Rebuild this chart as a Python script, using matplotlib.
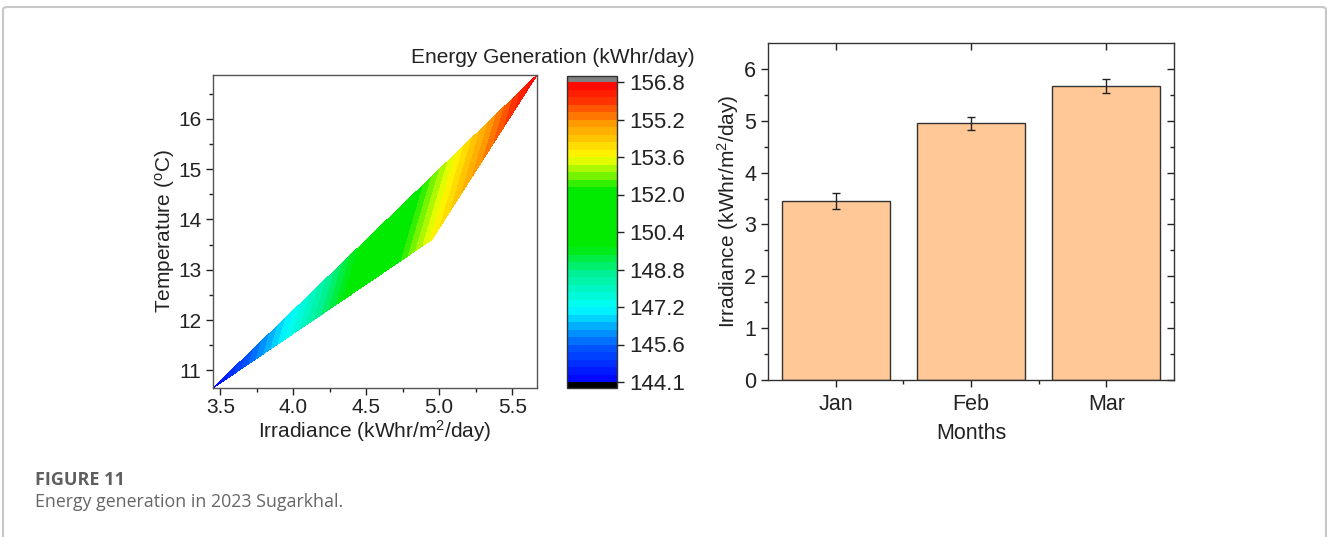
import numpy as np
import matplotlib
matplotlib.use("Agg")
import matplotlib.pyplot as plt
import matplotlib.tri as mtri
from matplotlib.colors import LinearSegmentedColormap
from matplotlib.patches import FancyBboxPatch

plt.rcParams['font.family'] = ['Liberation Sans', 'DejaVu Sans']
plt.rcParams['mathtext.default'] = 'regular'

# data
months = ['Jan', 'Feb', 'Mar']
irradiance = [3.45, 4.95, 5.67]
irradiance_err = [0.16, 0.12, 0.135]
temperature = [10.65, 13.6, 16.87]
energy = [144.1, 153.7, 156.8]
cbar_labels = ['144.1', '145.6', '147.2', '148.8', '150.4', '152.0', '153.6', '155.2', '156.8']

fig = plt.figure(figsize=(13.27, 5.37), dpi=100)

# outer frame of the figure box
frame = FancyBboxPatch((3 / 1327, -0.05), 1323 / 1327, 1 - 7 / 537 + 0.05,
                       boxstyle="round,pad=0,rounding_size=0.004",
                       transform=fig.transFigure, fill=False,
                       edgecolor='#c8c8c8', linewidth=1.5)
fig.patches.append(frame)

# colormap like Origin rainbow
nodes = [
    (0.00, (0.0, 0.0, 1.0)),
    (0.12, (0.0, 0.35, 1.0)),
    (0.245, (0.0, 1.0, 1.0)),
    (0.37, (0.0, 0.94, 0.55)),
    (0.45, (0.0, 0.92, 0.0)),
    (0.64, (0.0, 0.92, 0.0)),
    (0.75, (1.0, 1.0, 0.0)),
    (0.86, (1.0, 0.62, 0.0)),
    (0.94, (1.0, 0.2, 0.0)),
    (1.00, (1.0, 0.0, 0.0)),
]
cmap = LinearSegmentedColormap.from_list('origin_rainbow', nodes)
cmap.set_under('black')
cmap.set_over('#808080')

levels = np.linspace(144.1, 156.8, 41)

# left: contour
ax1 = fig.add_axes([213 / 1327, 1 - 388 / 537, 324 / 1327, 313 / 537])
tri = mtri.Triangulation(irradiance, temperature)
cs = ax1.tricontourf(tri, energy, levels=levels, cmap=cmap, extend='both')
ax1.set_xlim(3.45, 5.67)
ax1.set_ylim(10.65, 16.87)
ax1.set_xticks([3.5, 4.0, 4.5, 5.0, 5.5])
ax1.set_xticks([3.75, 4.25, 4.75, 5.25], minor=True)
ax1.set_yticks([11, 12, 13, 14, 15, 16])
ax1.set_yticks(np.arange(11.5, 16.6, 1.0), minor=True)
ax1.tick_params(which='major', direction='out', length=5, width=1, labelsize=15, colors='#222')
ax1.tick_params(which='minor', direction='out', length=3, width=1, colors='#222')
ax1.tick_params(axis='x', pad=2)
for s in ax1.spines.values():
    s.set_color('#555')
    s.set_linewidth(1)
ax1.set_xlabel('Irradiance (kWhr/m$^2$/day)', fontsize=15, labelpad=1, color='#222')
ax1.set_ylabel('Temperature ($^o$C)', fontsize=15, labelpad=1, color='#222')

# colorbar
cax = fig.add_axes([567 / 1327, 1 - 388 / 537, 50 / 1327, 312 / 537])
cb = fig.colorbar(cs, cax=cax, extend='both', extendrect=True, extendfrac=0.02)
ticks = np.linspace(144.1, 156.8, len(cbar_labels))
cb.set_ticks(ticks)
cb.set_ticklabels(cbar_labels)
cb.ax.tick_params(direction='out', length=5, width=1, labelsize=16, colors='#222')
cb.outline.set_edgecolor('#333')
cb.outline.set_linewidth(1)
fig.text(695 / 1327, 1 - 57 / 537, 'Energy Generation (kWhr/day)', ha='right', va='center',
         fontsize=15, color='#222')

# right: bar chart
ax2 = fig.add_axes([768 / 1327, 1 - 380 / 537, 406 / 1327, 337 / 537])
x = np.arange(len(months))
ax2.bar(x, irradiance, width=0.8, color='#ffc896', edgecolor='#333', linewidth=1,
        yerr=irradiance_err, capsize=3, error_kw=dict(ecolor='#222', elinewidth=1, capthick=1))
ax2.set_xlim(-0.5, 2.5)
ax2.set_ylim(0, 6.5)
ax2.set_xticks(x)
ax2.set_xticklabels(months)
ax2.set_xticks([0.5, 1.5], minor=True)
ax2.set_yticks(range(0, 7))
ax2.set_yticks(np.arange(0.5, 6.5, 1.0), minor=True)
ax2.tick_params(which='major', direction='out', length=5, width=1, labelsize=15.5, colors='#222')
ax2.tick_params(which='minor', direction='out', length=3, width=1, colors='#222')
ax2.tick_params(axis='x', labelsize=15.5, pad=5)
ax2.tick_params(which='both', right=True, top=True)
for s in ax2.spines.values():
    s.set_color('#333')
    s.set_linewidth(1)
# ticks on the opposite side point inward
for t in ax2.yaxis.get_major_ticks() + ax2.yaxis.get_minor_ticks():
    t.tick2line.set_marker(matplotlib.lines.TICKLEFT)
for t in ax2.xaxis.get_major_ticks():
    t.tick2line.set_marker(matplotlib.lines.TICKDOWN)
for t in ax2.xaxis.get_minor_ticks():
    t.tick2line.set_visible(False)
ax2.set_xlabel('Months', fontsize=15.5, labelpad=6, color='#222')
ax2.set_ylabel('Irradiance (kWhr/m$^2$/day)', fontsize=15, labelpad=2, color='#222')

# caption
fig.text(35 / 1327, 1 - 480 / 537, 'FIGURE 11', ha='left', va='center',
         fontsize=13, fontweight='bold', color='#5f5f5f', family=['Open Sans', 'DejaVu Sans'])
fig.text(35 / 1327, 1 - 502 / 537, 'Energy generation in 2023 Sugarkhal.', ha='left', va='center',
         fontsize=12.8, color='#666666', family=['Open Sans', 'DejaVu Sans'])

fig.savefig('out.png', dpi=100)
